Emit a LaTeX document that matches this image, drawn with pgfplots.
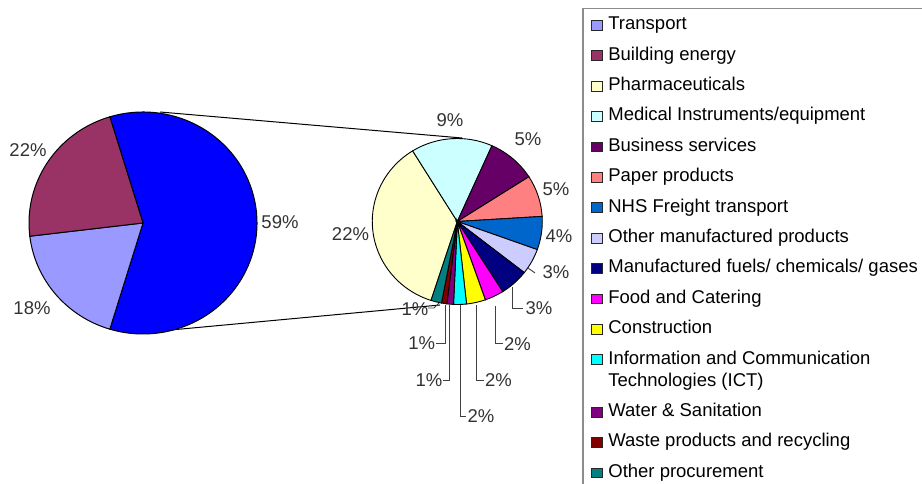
\documentclass[border=0pt]{standalone}
\usepackage{pgfplots}
\pgfplotsset{compat=1.18}
\usepackage{fontspec}
\setmainfont{Liberation Sans}
\definecolor{cT}{HTML}{9999FF}
\definecolor{cB}{HTML}{993366}
\definecolor{cO}{HTML}{0000FF}
\definecolor{cPh}{HTML}{FFFFCC}
\definecolor{cMe}{HTML}{CCFFFF}
\definecolor{cBu}{HTML}{660066}
\definecolor{cPa}{HTML}{FF8080}
\definecolor{cNh}{HTML}{0066CC}
\definecolor{cOm}{HTML}{CCCCFF}
\definecolor{cMf}{HTML}{000080}
\definecolor{cFo}{HTML}{FF00FF}
\definecolor{cCo}{HTML}{FFFF00}
\definecolor{cIc}{HTML}{00FFFF}
\definecolor{cWa}{HTML}{800080}
\definecolor{cWp}{HTML}{800000}
\definecolor{cOp}{HTML}{008080}
% left pie: centre (143,261), radii 114 x 111; values in percent of total
\newcommand\lslice[3]{\filldraw[fill=#3,draw=black,line width=1bp] (axis cs:143,261) -- ++({cos(#1)*114bp},{sin(#1)*111bp}) arc[start angle={#1},end angle={#2},x radius=114bp,y radius=111bp] -- cycle;}
% right pie: centre (457.3,262.5), radii 85 x 83; cumulative percents of the 59.4 share
\newcommand\rslice[3]{\filldraw[fill=#3,draw=black,line width=0.9bp] (axis cs:457.3,262.5) -- ++({cos(252-#1*6.0606)*85bp},{sin(252-#1*6.0606)*83bp}) arc[start angle={252-#1*6.0606},end angle={252-#2*6.0606},x radius=85bp,y radius=83bp] -- cycle;}
\newcommand\lab[3]{\node[font=\fontsize{18.5bp}{22bp}\selectfont,text=black!80,inner sep=0pt] at (axis cs:#1,#2) {#3};}
\begin{document}
\begin{tikzpicture}
\useasboundingbox (0,0) rectangle (922bp,484bp);
\begin{axis}[
  at={(0,0)}, anchor=south west,
  width=922bp, height=484bp, scale only axis,
  xmin=0, xmax=922, ymin=0, ymax=484,
  hide axis, clip=false,
  legend image code/.code={\draw[#1,draw=black!85,line width=0.9bp] (0bp,-0.5bp) rectangle (10.5bp,9.3bp);},
  legend cell align=left,
  legend style={at={(0.63124,0.98347)}, anchor=north west, draw=black!45, line width=1.5bp,
    inner xsep=8.7bp, inner ysep=5.6bp, row sep=8.4bp,
    font=\fontsize{18.5bp}{22bp}\selectfont,
    nodes={inner sep=0pt, anchor=base west, text height=15.4bp, text depth=6.6bp},
    /tikz/every odd column/.append style={column sep=5.5bp}},
]
% connector lines
\draw[black,line width=1bp] (axis cs:160,372) -- (axis cs:462,346);
\draw[black,line width=1bp] (axis cs:160,153) -- (axis cs:440,179);
% left pie: Other (59.4), Transport (18.4), Building energy (22.2)
\lslice{106.92}{-106.92}{cO}
\lslice{253.08}{186.84}{cT}
\lslice{186.84}{106.92}{cB}
% right pie
\rslice{0}{21.5}{cPh}
\rslice{21.5}{30.7}{cMe}
\rslice{30.7}{36.2}{cBu}
\rslice{36.2}{41.0}{cPa}
\rslice{41.0}{44.85}{cNh}
\rslice{44.85}{47.85}{cOm}
\rslice{47.85}{51.1}{cMf}
\rslice{51.1}{53.25}{cFo}
\rslice{53.25}{55.4}{cCo}
\rslice{55.4}{56.85}{cIc}
\rslice{56.85}{57.6}{cWa}
\rslice{57.6}{58.2}{cWp}
\rslice{58.2}{59.4}{cOp}
% leader lines
\draw[black!75,line width=0.9bp] (axis cs:528,216) -- (axis cs:535,211);
\draw[black!75,line width=0.9bp] (axis cs:512.7,197) |- (axis cs:523,176);
\draw[black!75,line width=0.9bp] (axis cs:495,178) |- (axis cs:503,140.5);
\draw[black!75,line width=0.9bp] (axis cs:476.7,179) |- (axis cs:484,104);
\draw[black!75,line width=0.9bp] (axis cs:460,179) |- (axis cs:466,68);
\draw[black!75,line width=0.9bp] (axis cs:449,179) |- (axis cs:443,104);
\draw[black!75,line width=0.9bp] (axis cs:445,179) |- (axis cs:436,140.5);
\draw[black!75,line width=0.9bp] (axis cs:439,181) -- (axis cs:434,176) -- (axis cs:428,176);
% labels
\lab{28}{334}{22\%}
\lab{280}{262}{59\%}
\lab{32}{176}{18\%}
\lab{450}{364}{9\%}
\lab{528}{345}{5\%}
\lab{556}{295}{5\%}
\lab{559}{248}{4\%}
\lab{556}{212}{3\%}
\lab{539}{176}{3\%}
\lab{350.5}{250}{22\%}
\lab{517.5}{140}{2\%}
\lab{498.5}{104}{2\%}
\lab{481}{68}{2\%}
\lab{429}{104}{1\%}
\lab{421.7}{141}{1\%}
\lab{415}{175}{1\%}
% legend
\addlegendimage{fill=cT}\addlegendentry{Transport}
\addlegendimage{fill=cB}\addlegendentry{Building energy}
\addlegendimage{fill=cPh}\addlegendentry{Pharmaceuticals}
\addlegendimage{fill=cMe}\addlegendentry{Medical Instruments/equipment}
\addlegendimage{fill=cBu}\addlegendentry{Business services}
\addlegendimage{fill=cPa}\addlegendentry{Paper products}
\addlegendimage{fill=cNh}\addlegendentry{NHS Freight transport}
\addlegendimage{fill=cOm}\addlegendentry{Other manufactured products}
\addlegendimage{fill=cMf}\addlegendentry{Manufactured fuels/ chemicals/ gases}
\addlegendimage{fill=cFo}\addlegendentry{Food and Catering}
\addlegendimage{fill=cCo}\addlegendentry{Construction}
\addlegendimage{fill=cIc}\addlegendentry[text depth=28.6bp]{\begin{tabular}[t]{@{}l@{}}Information and Communication\\Technologies (ICT)\end{tabular}}
\addlegendimage{fill=cWa}\addlegendentry{Water \& Sanitation}
\addlegendimage{fill=cWp}\addlegendentry{Waste products and recycling}
\addlegendimage{fill=cOp}\addlegendentry{Other procurement}
\end{axis}
\end{tikzpicture}
\end{document}
